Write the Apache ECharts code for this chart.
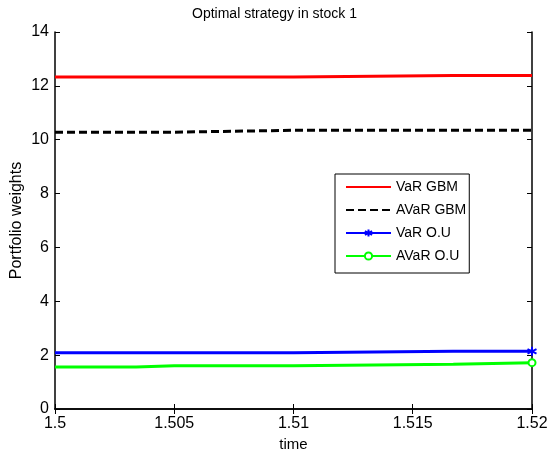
<!DOCTYPE html>
<html>
<head>
<meta charset="utf-8">
<title>Optimal strategy in stock 1</title>
<script src="https://cdn.jsdelivr.net/npm/echarts@6/dist/echarts.min.js"></script>
<style>
  html, body { margin: 0; padding: 0; background: #fff; }
  #chart { width: 549px; height: 455px; }
</style>
</head>
<body>
<div id="chart"></div>
<script>
// Time grid: each value holds from its time until the next one
var time = [1.5, 1.5034, 1.505, 1.51, 1.5167, 1.52];

var varGBM   = [12.33, 12.33, 12.33, 12.38, 12.38, 12.38];
var avarGBM  = [10.28, 10.28, 10.35, 10.35, 10.35, 10.35];
var varOU    = [2.09, 2.09, 2.09, 2.14, 2.14, 2.14];
var avarOU   = [1.56, 1.61, 1.61, 1.66, 1.72, 1.72];

var seriesNames = ['VaR GBM', 'AVaR GBM', 'VaR O.U', 'AVaR O.U'];

var FONT = 'Liberation Sans, Arial, sans-serif';

// Asterisk marker drawn as stroked strokes
var asterisk = 'path://M0,-5L0,5M-4.33,-2.5L4.33,2.5M-4.33,2.5L4.33,-2.5';

// Piecewise-constant path: hold each value until the next time, then jump.
// Markers appear only on the final sample.
function stairs(vals, markLast) {
  var out = [];
  for (var i = 0; i < vals.length; i++) {
    if (i > 0 && vals[i] !== vals[i - 1]) {
      out.push({ value: [time[i], vals[i - 1]], symbol: 'none' });
    }
    var item = { value: [time[i], vals[i]] };
    if (!(markLast && i === vals.length - 1)) item.symbol = 'none';
    out.push(item);
  }
  return out;
}

var chart = echarts.init(document.getElementById('chart'), null, { renderer: 'canvas' });

var axisLineStyle = { color: '#000', width: 1.5 };
var tickStyle = { inside: true, length: 5, lineStyle: { color: '#000' } };
var hidden = { itemStyle: { color: 'rgba(0,0,0,0)', borderColor: 'rgba(0,0,0,0)', opacity: 0 } };

var lineCommon = { type: 'line', smooth: false, step: false, connectNulls: true };

chart.setOption({
  animation: false,
  backgroundColor: '#fff',
  title: {
    text: 'Optimal strategy in stock 1',
    left: 'center',
    top: 2,
    textStyle: { fontFamily: FONT, fontSize: 14, fontWeight: 'normal', color: '#000' }
  },
  grid: { left: 55, right: 17, top: 32, bottom: 46, containLabel: false, outerBoundsMode: 'none' },
  legend: {
    orient: 'vertical',
    left: 335,
    top: 174,
    data: [
      Object.assign({ name: seriesNames[0] }, hidden),
      Object.assign({ name: seriesNames[1] }, hidden),
      { name: seriesNames[2] },
      { name: seriesNames[3] }
    ],
    backgroundColor: '#fff',
    borderColor: '#000',
    borderWidth: 1,
    padding: [6, 3, 10, 10],
    itemWidth: 45,
    itemHeight: 9,
    itemGap: 9,
    textStyle: { fontFamily: FONT, fontSize: 14, color: '#000' }
  },
  xAxis: [{
    type: 'value',
    min: 1.5,
    max: 1.52,
    interval: 0.005,
    name: 'time',
    nameLocation: 'middle',
    nameGap: 27,
    nameTextStyle: { fontFamily: FONT, fontSize: 15, color: '#000' },
    axisLine: { lineStyle: axisLineStyle },
    axisTick: tickStyle,
    axisLabel: {
      fontFamily: FONT, fontSize: 16, color: '#000', margin: 7,
      formatter: function (v) { return String(parseFloat(v.toFixed(3))); }
    },
    splitLine: { show: false }
  }, {
    type: 'value',
    position: 'top',
    min: 1.5,
    max: 1.52,
    interval: 0.005,
    axisLine: { lineStyle: axisLineStyle },
    axisTick: tickStyle,
    axisLabel: { show: false },
    splitLine: { show: false }
  }],
  yAxis: [{
    type: 'value',
    min: 0,
    max: 14,
    interval: 2,
    name: 'Portfolio weights',
    nameLocation: 'middle',
    nameGap: 30,
    nameMoveOverlap: false,
    nameTextStyle: { fontFamily: FONT, fontSize: 16, color: '#000' },
    axisLine: { lineStyle: axisLineStyle },
    axisTick: tickStyle,
    axisLabel: { fontFamily: FONT, fontSize: 16, color: '#000', margin: 6 },
    splitLine: { show: false }
  }, {
    type: 'value',
    position: 'right',
    min: 0,
    max: 14,
    interval: 2,
    axisLine: { lineStyle: axisLineStyle },
    axisTick: tickStyle,
    axisLabel: { show: false },
    splitLine: { show: false }
  }],
  series: [Object.assign({}, lineCommon, {
    name: seriesNames[0],
    symbol: 'none',
    data: stairs(varGBM, false),
    lineStyle: { color: '#ff0000', width: 3 },
    itemStyle: { color: '#ff0000' }
  }), Object.assign({}, lineCommon, {
    name: seriesNames[1],
    symbol: 'none',
    data: stairs(avarGBM, false),
    lineStyle: { color: '#000', width: 3, type: [8, 4] },
    itemStyle: { color: '#000' }
  }), Object.assign({}, lineCommon, {
    name: seriesNames[2],
    symbol: asterisk,
    symbolSize: 9,
    showSymbol: true,
    data: stairs(varOU, true),
    lineStyle: { color: '#0000ff', width: 3 },
    itemStyle: { color: '#0000ff', borderColor: '#0000ff', borderWidth: 2 }
  }), Object.assign({}, lineCommon, {
    name: seriesNames[3],
    symbol: 'emptyCircle',
    symbolSize: 7,
    showSymbol: true,
    data: stairs(avarOU, true),
    lineStyle: { color: '#00ff00', width: 3 },
    itemStyle: { color: '#00ff00', borderColor: '#00ff00', borderWidth: 2 }
  })]
});
</script>
</body>
</html>
